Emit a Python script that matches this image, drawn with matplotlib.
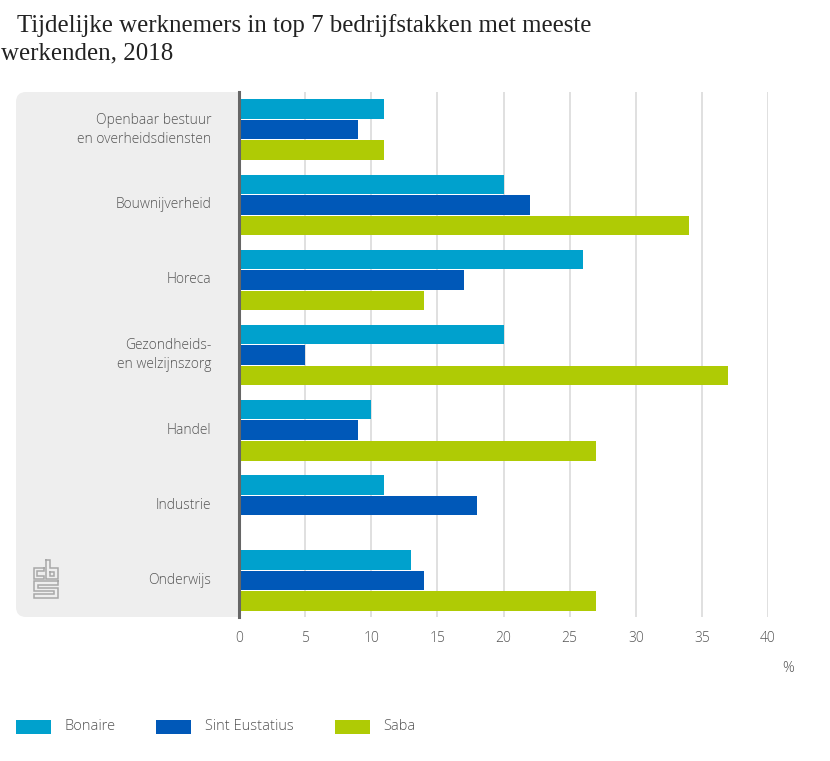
import numpy as np
from matplotlib import pyplot as plt
from matplotlib.patches import FancyBboxPatch, Rectangle

categories = ["Openbaar bestuur\nen overheidsdiensten", "Bouwnijverheid", "Horeca",
              "Gezondheids-\nen welzijnszorg", "Handel", "Industrie", "Onderwijs"]
bonaire = [11, 20, 26, 20, 10, 11, 13]
sint_eustatius = [9, 22, 17, 5, 9, 18, 14]
saba = [11, 34, 14, 37, 27, np.nan, 27]
series_names = ["Bonaire", "Sint Eustatius", "Saba"]
xticks = [0, 5, 10, 15, 20, 25, 30, 35, 40]

colors = ["#00a1cd", "#0058b8", "#afcb05"]
text_col = "#555555"
W, H = 830, 761

plt.rcParams['font.family'] = ['Open Sans', 'DejaVu Sans']

fig = plt.figure(figsize=(W / 100, H / 100), dpi=100)

# pixel coordinate layer for panel, logo, legend and title
bg = fig.add_axes([0, 0, 1, 1], zorder=0)
bg.set_xlim(0, W)
bg.set_ylim(H, 0)
bg.axis('off')

panel = FancyBboxPatch((16, 92), 260, 525, boxstyle="round,pad=0,rounding_size=10",
                       fc="#eeeeee", ec="none")
bg.add_patch(panel)
panel.set_clip_path(Rectangle((0, 0), 239, H, transform=bg.transData))

# cbs logo
logo = "#a8a8a8"
logo_lines = [
    ([44, 34, 34, 44, 44, 37, 37, 44, 44], [568, 568, 579, 579, 576, 576, 571, 571, 568]),
    ([46, 50, 50, 58, 58, 46, 46], [560, 560, 568, 568, 579, 579, 560]),
    ([50, 54, 54, 50, 50], [572, 572, 576, 576, 572]),
    ([58, 34, 34, 54, 54, 34, 34, 58, 58, 38, 38, 58, 58],
     [581, 581, 591, 591, 594, 594, 598, 598, 588, 588, 585, 585, 581]),
]
for lx, ly in logo_lines:
    bg.plot(lx, ly, color=logo, lw=1.1, solid_joinstyle='miter')

# title
bg.text(17, 26, "Tijdelijke werknemers in top 7 bedrijfstakken met meeste",
        family="Liberation Serif", fontsize=17.9, color="#222222", va='center')
bg.text(1, 53, "werkenden, 2018", family="Liberation Serif", fontsize=17.9,
        color="#222222", va='center')

# legend
for x0, name, col in zip([16, 156, 335], series_names, colors):
    bg.add_patch(Rectangle((x0, 720), 35, 14, fc=col, ec="none"))
    bg.text(x0 + 48.5, 727, name, fontsize=10.5, color=text_col, va='center', fontweight='light')

bg.text(788, 668, "%", fontsize=10.5, color=text_col, ha='center', va='center', fontweight='light')

# chart
ax = fig.add_axes([239 / W, 1 - 617 / H, (768 - 239) / W, (617 - 92) / H], zorder=1)
ax.patch.set_alpha(0)

y = np.arange(len(categories))
h = 0.26
off = 0.273
ax.barh(y - off, bonaire, h, color=colors[0], zorder=3, label=series_names[0])
ax.barh(y, sint_eustatius, h, color=colors[1], zorder=3, label=series_names[1])
ax.barh(y + off, saba, h, color=colors[2], zorder=3, label=series_names[2])

ax.set_xlim(0, 40)
ax.set_ylim(6.486, -0.502)
ax.set_xticks(xticks)
ax.set_xticklabels([str(t) for t in xticks], fontweight='light')
ax.set_yticks(y)
ax.set_yticklabels(categories, ha='right', multialignment='right', linespacing=1.4,
                   va='center', fontweight='light')
ax.tick_params(axis='both', length=0, labelsize=10, labelcolor=text_col)
ax.tick_params(axis='y', pad=20)
ax.tick_params(axis='x', pad=10)
ax.grid(axis='x', color="#dddddd", lw=1.3, zorder=0)
ax.set_axisbelow(True)
for s in ['top', 'right', 'bottom']:
    ax.spines[s].set_visible(False)
ax.spines['left'].set_color("#666666")
ax.spines['left'].set_linewidth(2.2)
ax.spines['left'].set_zorder(5)

fig.savefig('out.png', dpi=100)
